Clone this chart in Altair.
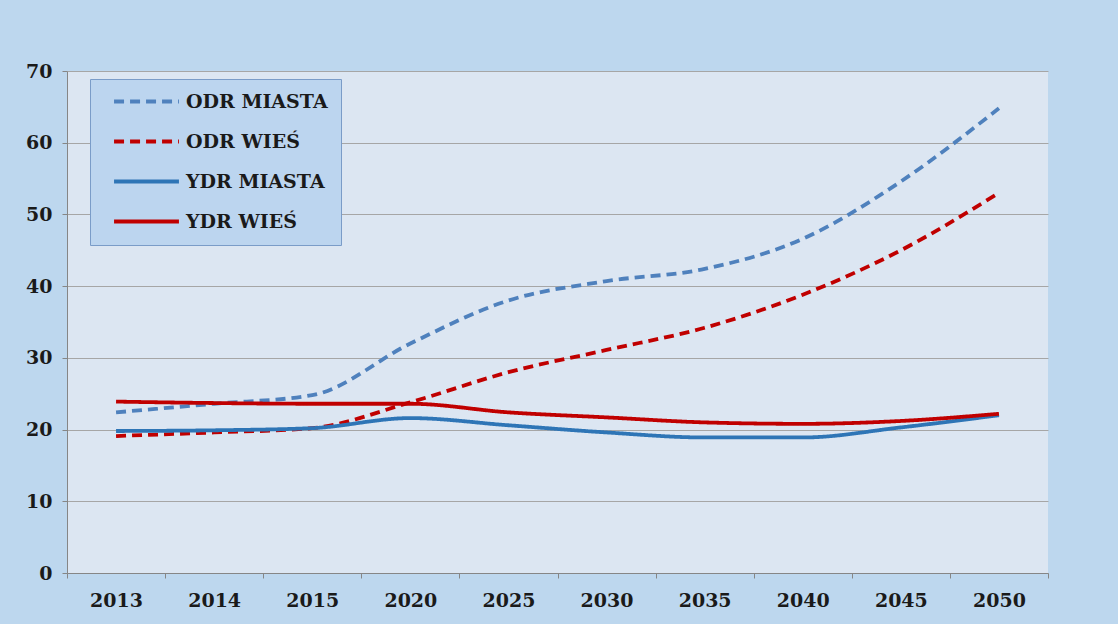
import altair as alt
import pandas as pd

years = ["2013", "2014", "2015", "2020", "2025", "2030", "2035", "2040", "2045", "2050"]
series = ["ODR MIASTA", "ODR WIEŚ", "YDR MIASTA", "YDR WIEŚ"]
odr_miasta = [22.4, 23.6, 24.8, 32.0, 38.0, 40.7, 42.4, 46.6, 54.6, 64.8]
odr_wies = [19.1, 19.6, 20.2, 23.8, 28.0, 31.1, 34.2, 38.8, 45.0, 53.0]
ydr_miasta = [19.8, 19.9, 20.2, 21.6, 20.6, 19.6, 18.9, 18.9, 20.3, 22.0]
ydr_wies = [23.9, 23.7, 23.6, 23.6, 22.4, 21.7, 21.0, 20.8, 21.2, 22.2]

values = [odr_miasta, odr_wies, ydr_miasta, ydr_wies]
rows = []
for name, vals in zip(series, values):
    for i, (y, v) in enumerate(zip(years, vals)):
        rows.append({"rok": y, "seria": name, "wartosc": v, "kolejnosc": i})
df = pd.DataFrame(rows)

colors = ["#4F81BD", "#C00000", "#2E75B6", "#C00000"]
dashes = [[10, 6], [10, 6], [1, 0], [1, 0]]

FONT = "DejaVu Serif"

chart = alt.Chart(df).mark_line(interpolate="monotone", strokeWidth=3.8).encode(
    x=alt.X("rok:O", sort=years, bandPosition=0.5,
            scale=alt.Scale(type="band", paddingInner=0, paddingOuter=0),
            axis=alt.Axis(title=None, labelAngle=0, tickBand="extent", grid=False,
                          labelFont=FONT, labelFontSize=19, labelFontWeight="bold",
                          labelColor="#1a1a1a", labelPadding=13, tickSize=5,
                          tickColor="#868686", domainColor="#868686")),
    y=alt.Y("wartosc:Q", scale=alt.Scale(domain=[0, 70], nice=False),
            axis=alt.Axis(title=None, values=list(range(0, 71, 10)), grid=True,
                          gridColor="#A6A6A6", gridWidth=1,
                          labelFont=FONT, labelFontSize=19, labelFontWeight="bold",
                          labelColor="#1a1a1a", labelPadding=10, tickSize=5,
                          tickColor="#868686", domainColor="#868686")),
    color=alt.Color("seria:N", sort=series,
                    scale=alt.Scale(domain=series, range=colors),
                    legend=alt.Legend(title=None, orient="none", legendX=23, legendY=8,
                                      symbolType="M-6,0H6", symbolSize=117,
                                      symbolOffset=34,
                                      symbolStrokeWidth=4, labelFont=FONT,
                                      labelFontSize=19, labelFontWeight="bold",
                                      labelColor="#1a1a1a", labelOffset=30, labelLimit=300,
                                      fillColor="#BCD5EF", strokeColor="#7A9CC8",
                                      padding=13, rowPadding=20)),
    strokeDash=alt.StrokeDash("seria:N", sort=series,
                              scale=alt.Scale(domain=series, range=dashes),
                              legend=None),
    order="kolejnosc:Q",
).properties(
    width=981, height=502,
    background="#BDD7EE",
    padding={"left": 67, "top": 71, "right": 70, "bottom": 51},
    autosize=alt.AutoSizeParams(type="none"),
).configure_view(fill="#DCE6F2", stroke=None)

chart.save("out.html", embed_options={"renderer": "svg", "actions": False})
